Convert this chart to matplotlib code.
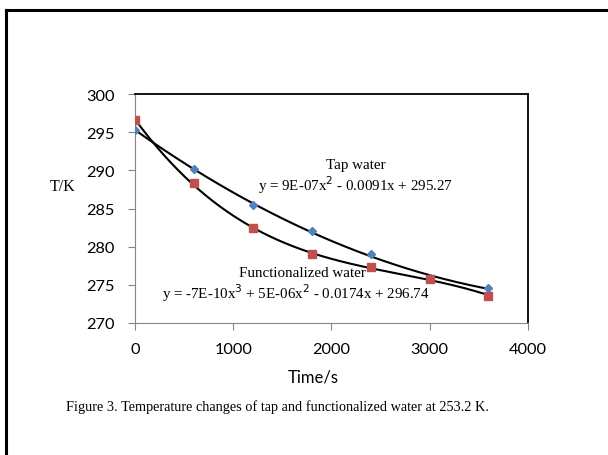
import numpy as np
import matplotlib.pyplot as plt
from matplotlib.lines import Line2D

# readings
time_tap = [0, 600, 1200, 1800, 2400, 3000, 3600]
temp_tap = [295.3, 290.2, 285.5, 282.0, 279.0, 275.9, 274.6]
time_func = [0, 600, 1200, 1800, 2400, 3000, 3600]
temp_func = [296.6, 288.3, 282.4, 279.0, 277.3, 275.7, 273.6]

tap_label = 'Tap water'
tap_eq = 'y = 9E-07x$^2$ - 0.0091x + 295.27'
func_label = 'Functionalized water'
func_eq = 'y = -7E-10x$^3$ + 5E-06x$^2$ - 0.0174x + 296.74'
caption = 'Figure 3. Temperature changes of tap and functionalized water at 253.2 K.'

fig = plt.figure(figsize=(6.08, 4.56), dpi=100)
ax = fig.add_axes([0.222, 0.2895, 0.646, 0.502])

# Excel style polynomial trendlines
xs = np.linspace(0, 3600, 200)
p_tap = np.polyfit(time_tap, temp_tap, 2)
p_func = np.polyfit(time_func, temp_func, 3)
ax.plot(xs, np.polyval(p_tap, xs), color='black', lw=1.5, zorder=2)
ax.plot(xs, np.polyval(p_func, xs), color='black', lw=1.5, zorder=2)

ax.plot(time_tap, temp_tap, 'D', color='#4F81BD', ms=4.5, ls='none', zorder=3)
ax.plot(time_func, temp_func, 's', color='#C0504D', ms=5.5, ls='none', zorder=4)

ax.set_xlim(0, 4000)
ax.set_ylim(270, 300)
ax.set_xticks([0, 1000, 2000, 3000, 4000])
ax.set_yticks([270, 275, 280, 285, 290, 295, 300])
ax.tick_params(direction='out', length=5, color='#868686', labelsize=11.8)
ax.tick_params(axis='x', pad=8.5)
ax.tick_params(axis='y', pad=9.5)
for lab in ax.get_xticklabels() + ax.get_yticklabels():
    lab.set_fontfamily('Lato')
for s in ['left', 'bottom']:
    ax.spines[s].set_color('#868686')
for s in ['top', 'right']:
    ax.spines[s].set_color('black')
    ax.spines[s].set_linewidth(1.3)

ax.set_xlabel('Time/s', fontfamily='Lato', fontsize=12)
ax.xaxis.set_label_coords(0.455, -0.20)
fig.text(0.1036, 0.590, 'T/K', fontfamily='Liberation Serif', fontsize=11.5, ha='center', va='center')

ax.text(2250, 290.8, tap_label, fontfamily='Liberation Serif', fontsize=10.8, ha='center', va='center')
ax.text(2250, 288.2, tap_eq, fontfamily='Liberation Serif', fontsize=10.8, ha='center', va='center')
ax.text(1710, 276.6, func_label, fontfamily='Liberation Serif', fontsize=10.8, ha='center', va='center')
ax.text(1640, 274.0, func_eq, fontfamily='Liberation Serif', fontsize=10.8, ha='center', va='center')

fig.text(0.457, 0.107, caption, fontfamily='Liberation Serif', fontsize=10.3, ha='center', va='center')

# outer frame, top and left only
fig.add_artist(Line2D([0.01, 1.0], [0.976, 0.976], color='black', lw=2.2, transform=fig.transFigure))
fig.add_artist(Line2D([0.01, 0.01], [0.0, 0.976], color='black', lw=2.2, transform=fig.transFigure))

fig.savefig('out.png', dpi=100)
